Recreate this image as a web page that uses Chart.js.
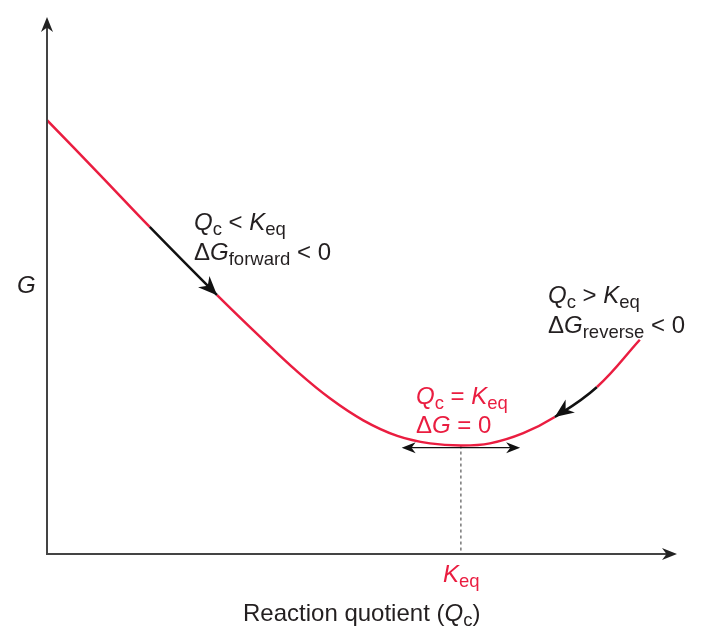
<!DOCTYPE html>
<html>
<head>
<meta charset="utf-8">
<script src="https://cdn.jsdelivr.net/npm/chart.js@4.4.0/dist/chart.umd.min.js"></script>
<style>
  html, body { margin: 0; padding: 0; background: #fff; }
  #wrap { width: 706px; height: 632px; }
</style>
</head>
<body>
<div id="wrap"><canvas id="chartG"></canvas></div>
<script>
// curve of G vs reaction quotient (arbitrary units)
const curveX = [0, 0.84, 1.63, 2.70, 3.43, 3.97, 4.49, 5.02, 5.56, 6.08, 6.57, 7.03, 7.56, 8.06, 8.73, 9.41];
const curveG = [8.08, 7.06, 6.09, 4.82, 3.99, 3.40, 2.90, 2.49, 2.20, 2.06, 2.02, 2.06, 2.25, 2.55, 3.11, 3.99];
// black arrow pieces along the curve (index of segment start)
const forwardSeg = 2;
const reverseSeg = 13;
// equilibrium point and the small double arrow
const keqX = 6.57;
const keqG = 2.02;
const tangentX = [5.63, 7.51];
const tangentG = [1.98, 1.98];

const RED = '#ea1d40';
const INK = '#231f20';
const FONT = '"Liberation Sans", Arial, sans-serif';

// labels: [text, style] with style '' | 'i' (italic) | 's' (subscript)
const labels = [
  { x: 194, y: 230, color: INK, parts: [['Q', 'i'], ['c', 's'], [' < ', ''], ['K', 'i'], ['eq', 's']] },
  { x: 194, y: 260, color: INK, parts: [['\u0394', ''], ['G', 'i'], ['forward', 's'], [' < 0', '']] },
  { x: 548, y: 303, color: INK, parts: [['Q', 'i'], ['c', 's'], [' > ', ''], ['K', 'i'], ['eq', 's']] },
  { x: 548, y: 333, color: INK, parts: [['\u0394', ''], ['G', 'i'], ['reverse', 's'], [' < 0', '']] },
  { x: 416, y: 404, color: RED, parts: [['Q', 'i'], ['c', 's'], [' = ', ''], ['K', 'i'], ['eq', 's']] },
  { x: 416, y: 433, color: RED, parts: [['\u0394', ''], ['G', 'i'], [' = 0', '']] },
  { x: 443, y: 582, color: RED, parts: [['K', 'i'], ['eq', 's']] },
  { x: 17, y: 293, color: INK, parts: [['G', 'i']] },
  { x: 243, y: 621, color: INK, parts: [['Reaction quotient (', ''], ['Q', 'i'], ['c', 's'], [')', '']] }
];

function setFont(ctx, style) {
  if (style === 's') ctx.font = '18.5px ' + FONT;
  else if (style === 'i') ctx.font = 'italic 24px ' + FONT;
  else ctx.font = '24px ' + FONT;
}

function drawRich(ctx, lab) {
  let x = lab.x;
  ctx.fillStyle = lab.color;
  ctx.textBaseline = 'alphabetic';
  ctx.textAlign = 'left';
  lab.parts.forEach(([t, st]) => {
    setFont(ctx, st);
    ctx.fillText(t, x, st === 's' ? lab.y + 5 : lab.y);
    x += ctx.measureText(t).width;
  });
}

// notched arrow head, tip at (x,y) pointing along angle a
function arrowHead(ctx, x, y, a, color, len, half) {
  ctx.save();
  ctx.translate(x, y);
  ctx.rotate(a);
  ctx.fillStyle = color;
  ctx.beginPath();
  ctx.moveTo(0, 0);
  ctx.lineTo(-len, -half);
  ctx.lineTo(-len * 0.7, 0);
  ctx.lineTo(-len, half);
  ctx.closePath();
  ctx.fill();
  ctx.restore();
}

const decor = {
  id: 'decor',
  afterDatasetsDraw(chart) {
    const ctx = chart.ctx;
    const a = chart.chartArea;
    const xs = chart.scales.x, ys = chart.scales.y;
    ctx.save();
    // axes
    ctx.strokeStyle = '#444';
    ctx.lineWidth = 2;
    ctx.beginPath();
    ctx.moveTo(a.left, a.top + 6);
    ctx.lineTo(a.left, a.bottom);
    ctx.lineTo(a.right - 6, a.bottom);
    ctx.stroke();
    arrowHead(ctx, a.left, a.top, -Math.PI / 2, '#222', 15, 6);
    arrowHead(ctx, a.right, a.bottom, 0, '#222', 15, 6);

    // arrow heads on curve pieces
    const meta = chart.getDatasetMeta(0).data;
    const f0 = meta[forwardSeg], f1 = meta[forwardSeg + 1];
    arrowHead(ctx, f1.x, f1.y, Math.atan2(f1.y - f0.y, f1.x - f0.x), '#111', 19, 8);
    const r0 = meta[reverseSeg + 1], r1 = meta[reverseSeg];
    arrowHead(ctx, r1.x, r1.y, Math.atan2(r1.y - r0.y, r1.x - r0.x), '#111', 19, 8);

    // double arrow heads
    const ty = ys.getPixelForValue(tangentG[0]);
    arrowHead(ctx, xs.getPixelForValue(tangentX[0]), ty, Math.PI, '#111', 14, 5.5);
    arrowHead(ctx, xs.getPixelForValue(tangentX[1]), ty, 0, '#111', 14, 5.5);

    labels.forEach(l => drawRich(ctx, l));
    ctx.restore();
  }
};

const curvePts = curveX.map((x, i) => ({ x: x, y: curveG[i] }));

new Chart(document.getElementById('chartG').getContext('2d'), {
  type: 'line',
  data: {
    datasets: [
      {
        data: curvePts,
        borderColor: RED,
        borderWidth: 2.5,
        pointRadius: 0,
        tension: 0.4,
        segment: {
          borderColor: c => (c.p0DataIndex === forwardSeg || c.p0DataIndex === reverseSeg) ? '#111' : RED
        }
      },
      {
        data: [{ x: tangentX[0] + 0.12, y: tangentG[0] }, { x: tangentX[1] - 0.12, y: tangentG[1] }],
        borderColor: '#111',
        borderWidth: 1.2,
        pointRadius: 0
      },
      {
        data: [{ x: keqX, y: keqG }, { x: keqX, y: 0 }],
        borderColor: '#333',
        borderWidth: 1,
        borderDash: [3, 3],
        pointRadius: 0
      }
    ]
  },
  options: {
    responsive: true,
    maintainAspectRatio: false,
    animation: false,
    layout: { padding: { left: 47, top: 17, right: 29, bottom: 78 } },
    scales: {
      x: { type: 'linear', min: 0, max: 10, display: false },
      y: { type: 'linear', min: 0, max: 10, display: false }
    },
    plugins: { legend: { display: false }, tooltip: { enabled: false } }
  },
  plugins: [decor]
});
</script>
</body>
</html>
